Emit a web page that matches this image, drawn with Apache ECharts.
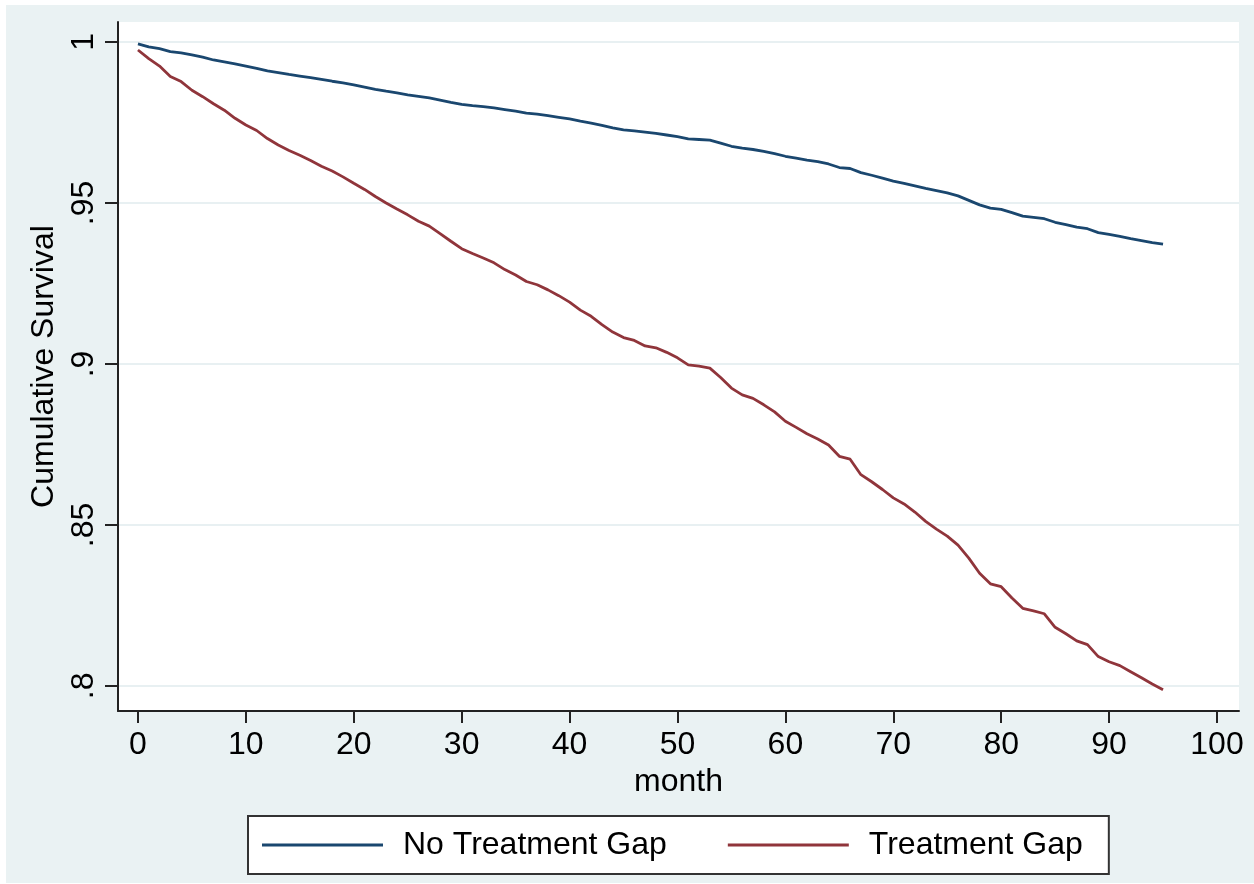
<!DOCTYPE html>
<html><head><meta charset="utf-8">
<script src="https://cdn.jsdelivr.net/npm/echarts@6/dist/echarts.min.js"></script>
<style>
html,body{margin:0;padding:0;background:#fff;}
#bg{position:absolute;left:6px;top:5px;width:1248px;height:878px;background:#EAF2F3;}
#chart{position:absolute;left:0;top:0;width:1254px;height:884px;}
</style></head><body>
<div id="bg"></div><div id="chart"></div>
<script>
const months = [0,1,2,3,4,5,6,7,8,9,10,11,12,13,14,15,16,17,18,19,20,21,22,23,24,25,26,27,28,29,30,31,32,33,34,35,36,37,38,39,40,41,42,43,44,45,46,47,48,49,50,51,52,53,54,55,56,57,58,59,60,61,62,63,64,65,66,67,68,69,70,71,72,73,74,75,76,77,78,79,80,81,82,83,84,85,86,87,88,89,90,91,92,93,94,95];
const noGap = [0.9994,0.9985,0.9979,0.9970,0.9966,0.9960,0.9953,0.9944,0.9938,0.9932,0.9925,0.9918,0.9910,0.9905,0.9899,0.9894,0.9889,0.9884,0.9878,0.9873,0.9867,0.9860,0.9853,0.9847,0.9842,0.9836,0.9831,0.9826,0.9819,0.9812,0.9806,0.9802,0.9799,0.9795,0.9790,0.9785,0.9779,0.9776,0.9771,0.9766,0.9761,0.9754,0.9748,0.9741,0.9733,0.9727,0.9724,0.9720,0.9716,0.9711,0.9706,0.9699,0.9697,0.9695,0.9686,0.9676,0.9670,0.9666,0.9660,0.9653,0.9645,0.9639,0.9633,0.9628,0.9621,0.9610,0.9607,0.9594,0.9586,0.9577,0.9568,0.9561,0.9553,0.9545,0.9538,0.9531,0.9522,0.9508,0.9494,0.9484,0.9480,0.9470,0.9459,0.9455,0.9451,0.9440,0.9433,0.9425,0.9420,0.9408,0.9402,0.9396,0.9389,0.9383,0.9377,0.9372];
const withGap = [0.9975,0.9948,0.9925,0.9893,0.9877,0.9850,0.9830,0.9808,0.9788,0.9763,0.9742,0.9725,0.9700,0.9680,0.9663,0.9648,0.9632,0.9614,0.9599,0.9581,0.9561,0.9542,0.9520,0.9500,0.9481,0.9463,0.9443,0.9428,0.9405,0.9381,0.9358,0.9343,0.9329,0.9314,0.9293,0.9276,0.9256,0.9246,0.9230,0.9212,0.9192,0.9167,0.9148,0.9122,0.9099,0.9082,0.9073,0.9056,0.9050,0.9036,0.9019,0.8997,0.8993,0.8987,0.8958,0.8925,0.8904,0.8893,0.8873,0.8851,0.8822,0.8803,0.8783,0.8767,0.8748,0.8713,0.8704,0.8656,0.8634,0.8610,0.8584,0.8565,0.8540,0.8511,0.8487,0.8465,0.8437,0.8397,0.8350,0.8317,0.8308,0.8273,0.8241,0.8233,0.8224,0.8182,0.8162,0.8140,0.8128,0.8091,0.8075,0.8063,0.8044,0.8025,0.8006,0.7988];
const seriesNames = ['No Treatment Gap','Treatment Gap'];
const yTicks = [0.8,0.85,0.9,0.95,1];
const yTickLabels = ['.8','.85','.9','.95','1'];
const xTicks = [0,10,20,30,40,50,60,70,80,90,100];
const xTickLabels = ['0','10','20','30','40','50','60','70','80','90','100'];

const FONT = '"Liberation Sans", Arial, sans-serif';
function nearestLabel(v, ticks, labels){
  let bi = 0, bd = Infinity;
  ticks.forEach((t,i)=>{ const d=Math.abs(t-v); if(d<bd){bd=d;bi=i;} });
  return bd < 1e-6 ? labels[bi] : '';
}
const chart = echarts.init(document.getElementById('chart'), null, {renderer:'canvas'});
chart.setOption({
  animation:false,
  backgroundColor:'transparent',
  grid:{left:118, top:22, right:15, bottom:173, show:true, backgroundColor:'#fff', borderWidth:0},
  xAxis:{
    type:'value', min:-1.85, max:102.04,
    name:'month', nameLocation:'middle', nameGap:45,
    nameTextStyle:{fontSize:32, color:'#000', fontFamily:FONT},
    axisLine:{show:true, onZero:false, lineStyle:{color:'#222', width:2}},
    axisTick:{show:true, length:12, customValues:xTicks, lineStyle:{color:'#222', width:2}},
    axisLabel:{customValues:xTicks, margin:18, fontSize:32, color:'#000', fontFamily:FONT,
      formatter:v=>nearestLabel(v,xTicks,xTickLabels)},
    splitLine:{show:false}
  },
  yAxis:{
    type:'value', min:0.7922, max:1.0062,
    name:'Cumulative Survival', nameLocation:'middle', nameGap:44, nameRotate:90,
    nameTextStyle:{fontSize:32, color:'#000', fontFamily:FONT},
    axisLine:{show:true, onZero:false, lineStyle:{color:'#222', width:2}},
    axisTick:{show:true, length:13, customValues:yTicks, lineStyle:{color:'#222', width:2}},
    axisLabel:{customValues:yTicks, rotate:90, margin:18, fontSize:32, color:'#000', fontFamily:FONT,
      formatter:v=>nearestLabel(v,yTicks,yTickLabels)},
    splitLine:{show:true, lineStyle:{color:'#E8F0F2', width:2}}
  },
  legend:{
    left:248, top:816, orient:'horizontal',
    icon:'rect', itemWidth:121, itemHeight:3, itemGap:61,
    padding:[13,26,13,14],
    borderColor:'#333', borderWidth:2, backgroundColor:'#fff', borderRadius:0,
    textStyle:{fontSize:32, color:'#000', fontFamily:FONT, padding:[0,0,0,15]},
    data:seriesNames
  },
  series:[
    {name:seriesNames[0], type:'line', symbol:'none', color:'#1A476F',
     lineStyle:{color:'#1A476F', width:2.8},
     data:months.map((m,i)=>[m,noGap[i]])},
    {name:seriesNames[1], type:'line', symbol:'none', color:'#90353B',
     lineStyle:{color:'#90353B', width:2.8},
     data:months.map((m,i)=>[m,withGap[i]])}
  ]
});
</script></body></html>
